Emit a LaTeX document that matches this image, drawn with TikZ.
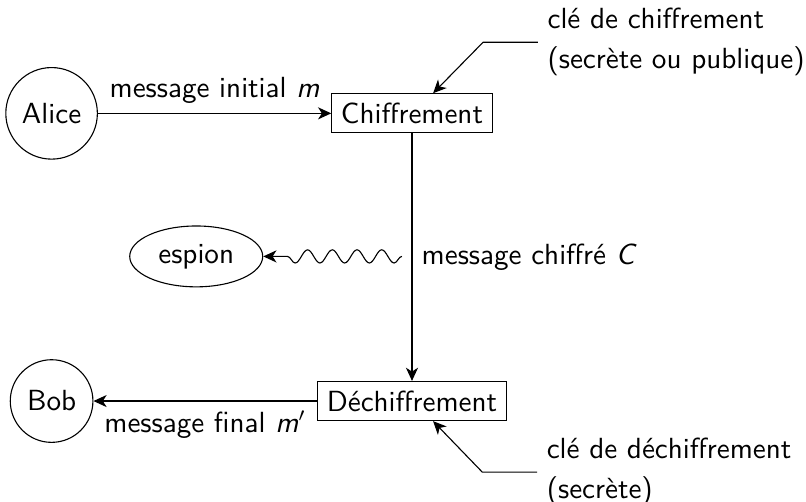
\documentclass[tikz,border=0pt]{standalone}
\usetikzlibrary{shapes,arrows,arrows.meta,positioning,calc,decorations.pathmorphing}

\begin{document}
\begin{tikzpicture}[
    every node/.style={font=\sffamily\fontsize{10.6}{12.7}\selectfont},
    agent/.style={circle, draw, inner sep=4pt},
    block/.style={rectangle, draw},
    spy/.style={ellipse, draw},
    keylabel/.style={align=left, anchor=west},
    arrow/.style={-{Stealth[length=4.8pt, width=4.4pt, inset=1.4pt]}},
    wave/.style={-{Stealth[length=4.8pt, width=4.4pt, inset=1.4pt]}, decorate, decoration={snake, amplitude=2.4pt, segment length=9pt, post length=2mm}}
]
\useasboundingbox (0,0) rectangle (10.31,-6.42);

% Sender side
\node[agent] (alice) at (0.66,-1.45) {Alice};
\node[block] (chif) at (5.27,-1.45) {Chiffrement};
\node[keylabel] (keyenc) at (6.88,-0.54) {clé de chiffrement\\[1.8pt](secrète ou publique)};

% Receiver side
\node[agent] (bob) at (0.66,-5.13) {Bob};
\node[block] (dechif) at (5.27,-5.13) {Déchiffrement};
\node[keylabel] (keydec) at (6.87,-6.04) {clé de déchiffrement\\[1.8pt](secrète)};

% Eavesdropper
\node[spy] (espion) at (2.51,-3.28) {espion};
\coordinate (tap) at (5.14,-3.28);

% Messages
\draw[arrow] (alice) -- node[above] {message initial \textit{m}} (chif);
\draw[arrow] (chif) -- node[right] {message chiffré \textit{C}} (dechif);
\draw[arrow] (dechif) -- node[below] {message final \textit{m}$'$} (bob);
\draw[wave] (tap) -- (espion);

% Keys
\draw[arrow] (keyenc.west) -- ++(-0.70,0) -- ([xshift=0.27cm]chif.north);
\draw[arrow] (keydec.west) -- ++(-0.70,0) -- ([xshift=0.27cm]dechif.south);

\end{tikzpicture}
\end{document}
